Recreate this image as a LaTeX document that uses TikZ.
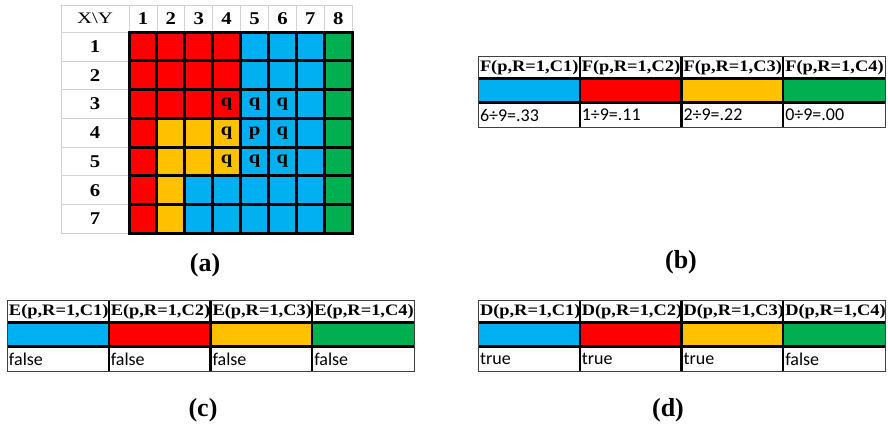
\documentclass[tikz,border=0pt]{standalone}
\usepackage{fontspec}
\setmainfont{Liberation Serif}
\newfontfamily\widefont[FakeStretch=1.3]{Liberation Serif}
\newfontfamily\headfont[FakeStretch=1.15]{Liberation Serif}
\newfontfamily\valfont{Carlito}
\usepackage{tikz}
\usetikzlibrary{positioning}
\definecolor{zone0}{HTML}{00B0F0}
\definecolor{zone1}{HTML}{FF0000}
\definecolor{zone2}{HTML}{FFC000}
\definecolor{zone3}{HTML}{00B050}

\begin{document}
\begin{tikzpicture}[
  x=1pt,y=-1pt,
  node distance=0pt,
  every node/.style={inner sep=0pt,outer sep=0pt},
  hcell/.style={draw=gray!35,line width=0.7pt,minimum height=27.3pt,font=\headfont\fontsize{18}{19}\selectfont\bfseries},
  cell/.style={draw=black,line width=3pt,minimum width=27.9pt,minimum height=28.7pt},
  qmark/.style={font=\headfont\fontsize{18}{19}\selectfont\bfseries},
  thead/.style={anchor=north west,minimum height=22.5pt,text width=97.75pt,inner xsep=2pt,align=left,font=\headfont\fontsize{16}{17}\selectfont\bfseries},
  tswatch/.style={minimum height=24pt,minimum width=101.75pt},
  tval/.style={minimum height=25pt,text width=97.75pt,inner xsep=2pt,align=left,font=\valfont\fontsize{18}{19}\selectfont},
  tline/.style={draw=black,line width=2.4pt},
  tframe/.style={draw=black!75,line width=0.8pt},
  caption/.style={font=\fontsize{26}{28}\selectfont\bfseries},
]
\useasboundingbox (0,0) rectangle (888,428);

% (a) grid of zones
\node[hcell,minimum width=68pt,font=\widefont\fontsize{16}{17}\selectfont] (xy) at (95,18.65) {X\textbackslash Y};
\foreach \c in {1,...,8}
  \node[hcell,minimum width=27.9pt] (col\c) at ({129+27.9*(\c-0.5)},18.65) {\c};
\foreach \r in {1,...,7}
  \node[hcell,minimum width=68pt,minimum height=28.7pt] (row\r) at (95,{32.3+28.7*(\r-0.5)}) {\r};
\def\zonemap{{1,1,1,1,0,0,0,3, 1,1,1,1,0,0,0,3, 1,1,1,1,0,0,0,3,
  1,2,2,2,0,0,0,3, 1,2,2,2,0,0,0,3, 1,2,0,0,0,0,0,3, 1,2,0,0,0,0,0,3}}
\foreach \r in {1,...,7}
  \foreach \c in {1,...,8} {
    \pgfmathtruncatemacro\k{\zonemap[8*(\r-1)+\c-1]}
    \node[cell,fill=zone\k] (g-\r-\c) at ({129+27.9*(\c-0.5)},{32.3+28.7*(\r-0.5)}) {};
  }
\foreach \r/\c/\t in {3/4/q,3/5/q,3/6/q,4/4/q,4/5/p,4/6/q,5/4/q,5/5/q,5/6/q}
  \node[qmark] (m-\r-\c) at (g-\r-\c) {\t};

% (b), (c), (d) tables
\foreach \t/\fn/\tx/\ty/\va/\vb/\vc/\vd in {
    b/F/478/56/6÷9=.33/1÷9=.11/2÷9=.22/0÷9=.00,
    c/E/7/300/false/false/false/false,
    d/D/478/300/true/true/true/false} {
  \foreach \v/\col [count=\i] in {\va/zone0,\vb/zone1,\vc/zone2,\vd/zone3} {
    \node[thead] (\t-h\i) at ({\tx+101.75*(\i-1)},\ty) {\fn(p,R=1,C\i)};
    \node[tswatch,fill=\col,below=of \t-h\i] (\t-s\i) {};
    \node[tval,below=of \t-s\i] (\t-v\i) {\v};
  }
  \draw[tline] (\t-h1.south west) -- (\t-h4.south east);
  \draw[tline] (\t-s1.south west) -- (\t-s4.south east);
  \foreach \i in {1,2,3}
    \draw[tline] (\t-h\i.north east) -- (\t-v\i.south east);
  \draw[tframe] (\t-h1.north west) rectangle (\t-v4.south east);
}

\node[caption] (cap-a) at (205,265) {(a)};
\node[caption] (cap-b) at (681,262) {(b)};
\node[caption] (cap-c) at (203,410) {(c)};
\node[caption] (cap-d) at (668,410) {(d)};
\end{tikzpicture}
\end{document}
